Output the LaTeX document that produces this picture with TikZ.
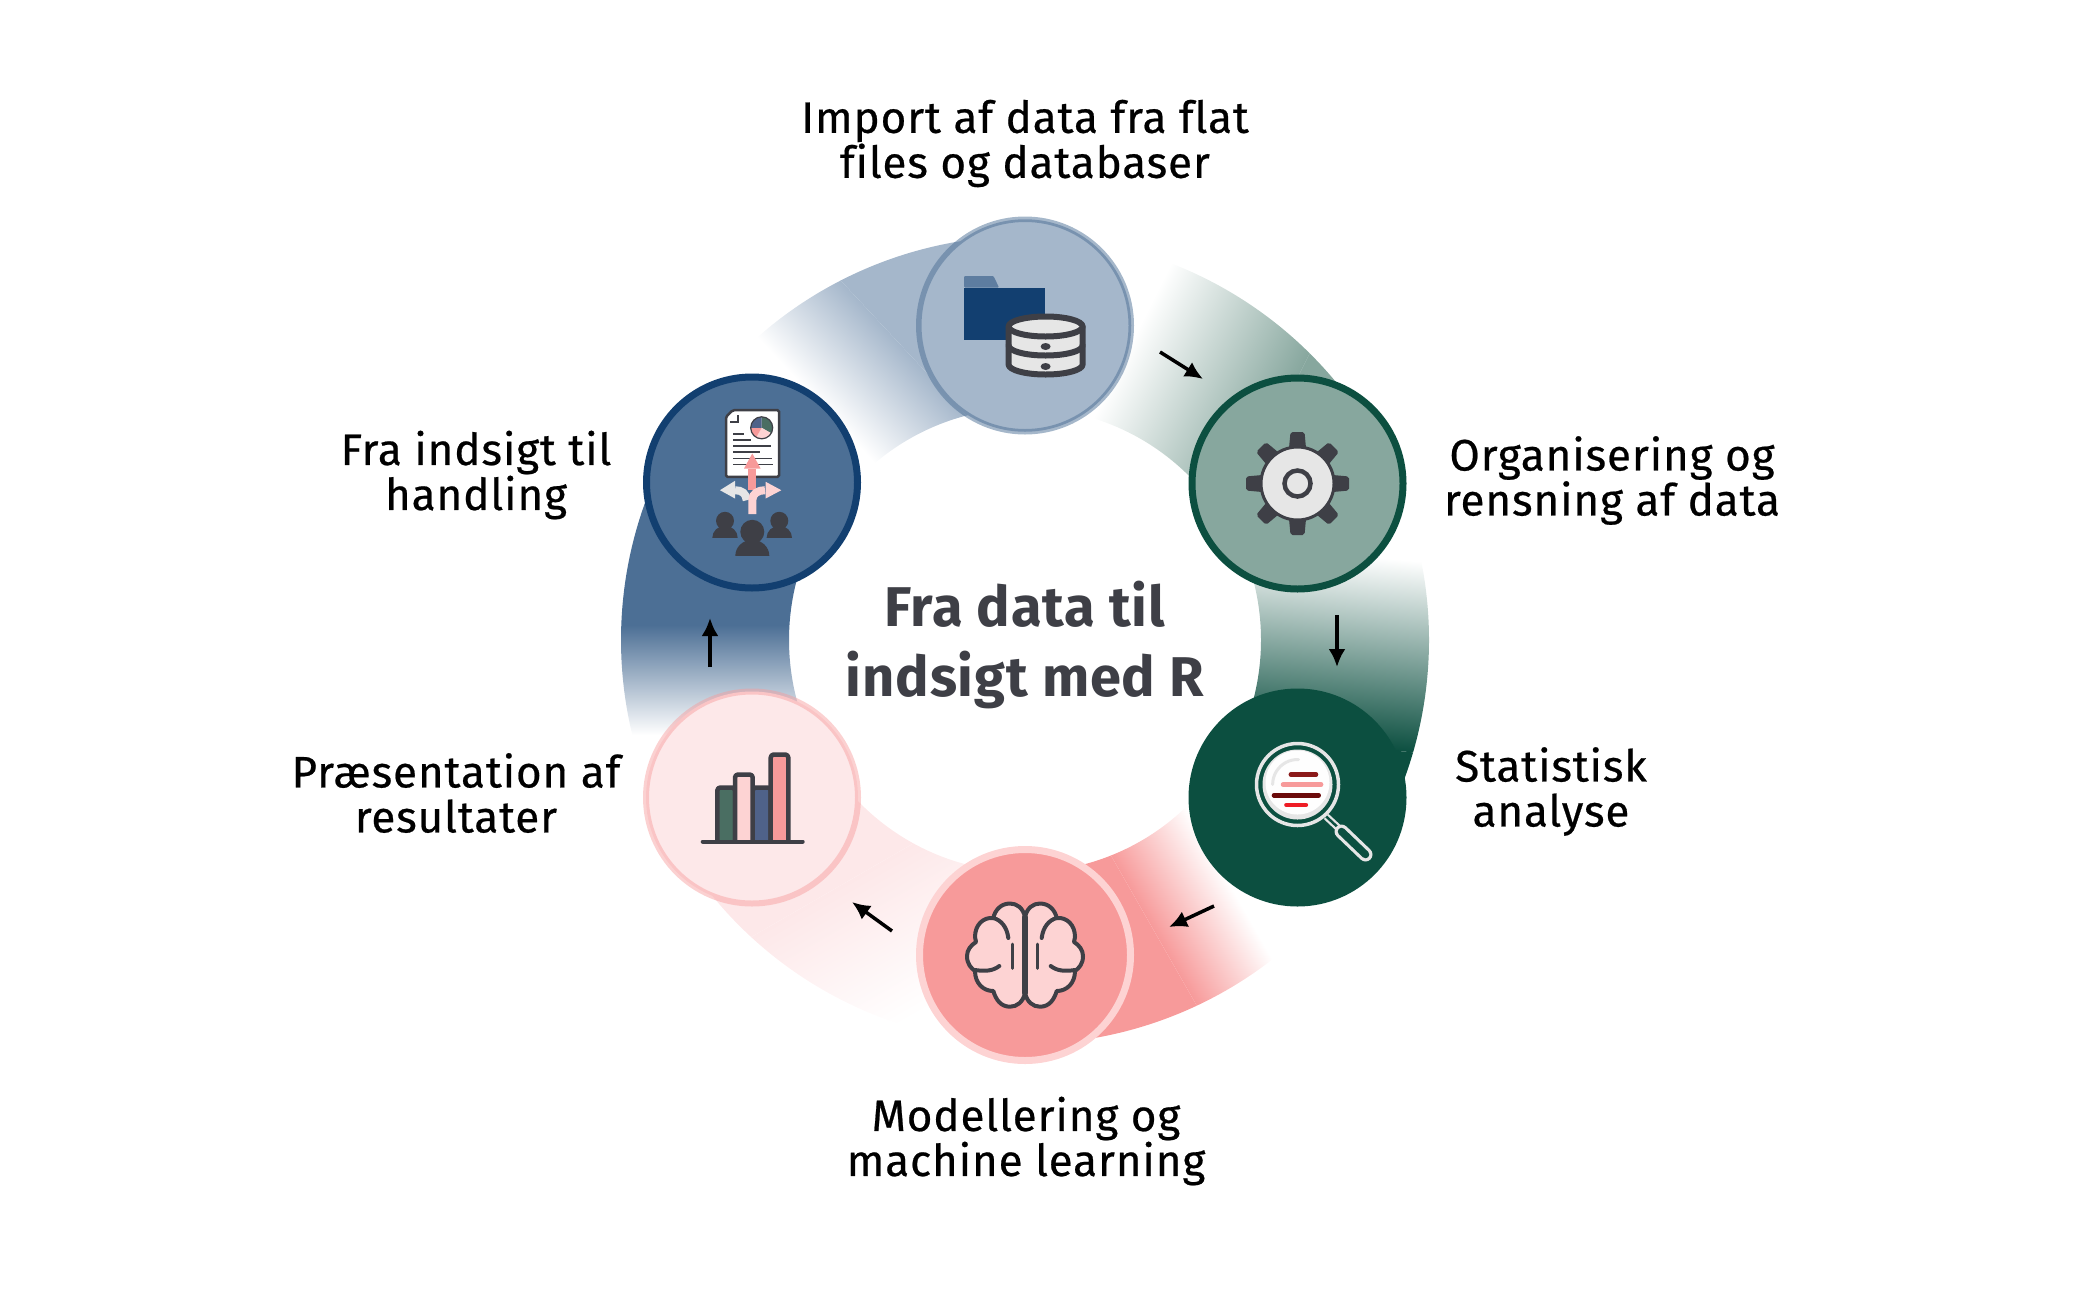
\documentclass[tikz,border=0pt]{standalone}
\usepackage{fontspec}
\setmainfont{Fira Sans}
\newfontfamily\labelfont{Fira Sans}[LetterSpace=2, FakeBold=0.5, Ligatures=NoCommon]
\newfontfamily\titlefont{Fira Sans}[LetterSpace=1.5, Ligatures=NoCommon]
\usetikzlibrary{arrows.meta}

\definecolor{inkgrey}{HTML}{3E3F46}
\definecolor{lightgrey}{HTML}{E6E6E6}
\definecolor{paleblue}{HTML}{A5B7CB}
\definecolor{midblue}{HTML}{4C6F95}
\definecolor{deepblue}{HTML}{123F70}
\definecolor{slateblue}{HTML}{4F6289}
\definecolor{palegreen}{HTML}{87A79E}
\definecolor{midgreen}{HTML}{4A6E62}
\definecolor{deepgreen}{HTML}{0C4F40}
\definecolor{salmon}{HTML}{F79A9A}
\definecolor{palepink}{HTML}{FDD3D3}
\definecolor{softpink}{HTML}{FDE8E9}
\definecolor{lensdark}{HTML}{8B1A1A}
\definecolor{lensdeep}{HTML}{6B0A0A}
\definecolor{lensred}{HTML}{EE1C25}

\tikzset{
	stepcircle/.style n args={3}{circle, draw=#1, fill=#2, line width=#3, minimum size=218pt-#3, inner sep=0pt},
	steplabel/.style={align=center, text=black, inner sep=0pt, font=\labelfont\fontsize{44}{45}\selectfont},
	steparrow/.style={->, >={Latex[length=18pt,width=17pt]}, line width=3.5pt, black},
	iconline/.style={draw=inkgrey, line width=4.5pt, line join=round, line cap=round},
	thinline/.style={draw=inkgrey, line width=1.8pt},
}

% ring piece: from angle, to angle, colour, gradient start x y, gradient end x y, inner radius
\newcommand{\ringseg}[8]{
	\pgfmathsetmacro{\gradang}{atan2(#7-#5,#6-#4)}
	\pgfmathsetmacro{\gradlen}{veclen(#6-#4,#7-#5)}
	\begin{scope}
		\clip[shift={(1025,-640)}] (#1:404) arc [start angle=#1, end angle=#2, radius=404] -- (#2:#8) arc [start angle=#2, end angle=#1, radius=#8] -- cycle;
		\begin{scope}[transform canvas={shift={(#4,#5)}, rotate=\gradang}]
			\shade[left color=white, right color=#3] (0,-700) rectangle (\gradlen,700);
			\fill[#3] (\gradlen,-700) rectangle (1400,700);
		\end{scope}
	\end{scope}
}

\newcommand{\brainhalf}{
	\draw[iconline, line width=4pt, fill=palepink] (0,38) .. controls (2,47) and (8,51.5) .. (15,51.5) .. controls (24,51.5) and (30,45) .. (31.7,37) .. controls (42,38) and (50,30) .. (50,18) .. controls (50,16) and (49.5,15) .. (49,13) .. controls (54,10) and (58,5) .. (58,-1) .. controls (58,-9) and (54,-13) .. (50,-16) .. controls (50,-28) and (42,-36) .. (31.7,-36) .. controls (29,-45) and (24,-51.7) .. (15,-51.7) .. controls (8,-51.7) and (2,-47) .. (0,-38) -- cycle;
	\draw[iconline, line width=4pt] (16.7,17) .. controls (18,28) and (24,35) .. (31.7,37);
	\draw[iconline, line width=4pt] (25.7,-11) .. controls (32,-16) and (40,-16.5) .. (50,-15);
	\draw[iconline, line width=3pt] (12.3,11) -- (12.3,-13.3);
}

\begin{document}
\begin{tikzpicture}[x=1pt, y=1pt]
	\useasboundingbox (0,0) rectangle (2084,-1304);

	% ring
	\ringseg{90}{30}{palegreen}{1170}{-265}{1317}{-339}{232}
	\ringseg{30}{-30}{deepgreen}{1353}{-555}{1335}{-745}{236}
	\ringseg{-30}{-90}{salmon}{1262}{-941}{1185}{-985}{232}
	\ringseg{-90}{-150}{softpink}{925}{-1010}{850}{-880}{232}
	\ringseg{-150}{-210}{midblue}{710}{-735}{710}{-625}{236}
	\ringseg{150}{90}{paleblue}{757}{-337}{830}{-269}{232}

	% steps
	\node (imp) [stepcircle={midblue}{paleblue}{5.5pt}, draw opacity=.5] at (1025,-325.5) {};
	\node (org) [stepcircle={deepgreen}{palegreen}{7pt}] at (1297.5,-483.5) {};
	\node (stat) [stepcircle={deepgreen}{deepgreen}{6pt}] at (1297.5,-797.5) {};
	\node (model) [stepcircle={palepink}{salmon}{7pt}] at (1025,-955) {};
	\node (pres) [stepcircle={salmon}{softpink}{6pt}, draw opacity=.45] at (752,-797.5) {};
	\node (act) [stepcircle={deepblue}{midblue}{7pt}] at (752,-482.5) {};

	% arrows
	\coordinate (a1) at (1160,-352);
	\coordinate (b1) at (1203,-379);
	\coordinate (a2) at (1337,-615);
	\coordinate (b2) at (1337,-667);
	\coordinate (a3) at (1214,-906);
	\coordinate (b3) at (1169,-927);
	\coordinate (a4) at (892,-931);
	\coordinate (b4) at (852,-902);
	\coordinate (a5) at (710,-667);
	\coordinate (b5) at (710,-618);
	\draw [steparrow] (a1) -- (b1);
	\draw [steparrow] (a2) -- (b2);
	\draw [steparrow] (a3) -- (b3);
	\draw [steparrow] (a4) -- (b4);
	\draw [steparrow] (a5) -- (b5);

	% folder and database
	\begin{scope}[shift={(imp.center)}]
		\fill[midblue!90!white, rounded corners=1pt] (-61,38) -- (-61,49.5) -- (-31.5,49.5) -- (-26,38) -- cycle;
		\fill[deepblue] (-61,-14) rectangle (20,38);
		\begin{scope}[shift={(20.6,-1)}]
			\draw[iconline, line width=6pt, fill=lightgrey] (-37,0) -- (-37,-38) arc [start angle=180, end angle=360, x radius=37, y radius=10] -- (37,0) -- cycle;
			\draw[iconline, line width=6pt, fill=lightgrey] (0,0) ellipse [x radius=37, y radius=10];
			\draw[iconline, line width=6pt] (-37,-19) arc [start angle=180, end angle=360, x radius=37, y radius=10];
			\fill[inkgrey] (0,-20) ellipse [x radius=5, y radius=3.5];
			\fill[inkgrey] (0,-40) ellipse [x radius=5, y radius=3.5];
		\end{scope}
	\end{scope}

	% gear
	\begin{scope}[shift={(org.center)}]
		\fill[inkgrey, rounded corners=2pt, rotate=0] (-9,30) -- (-7,51.5) -- (7,51.5) -- (9,30) -- cycle;
		\fill[inkgrey, rounded corners=2pt, rotate=45] (-9,30) -- (-7,51.5) -- (7,51.5) -- (9,30) -- cycle;
		\fill[inkgrey, rounded corners=2pt, rotate=90] (-9,30) -- (-7,51.5) -- (7,51.5) -- (9,30) -- cycle;
		\fill[inkgrey, rounded corners=2pt, rotate=135] (-9,30) -- (-7,51.5) -- (7,51.5) -- (9,30) -- cycle;
		\fill[inkgrey, rounded corners=2pt, rotate=180] (-9,30) -- (-7,51.5) -- (7,51.5) -- (9,30) -- cycle;
		\fill[inkgrey, rounded corners=2pt, rotate=225] (-9,30) -- (-7,51.5) -- (7,51.5) -- (9,30) -- cycle;
		\fill[inkgrey, rounded corners=2pt, rotate=270] (-9,30) -- (-7,51.5) -- (7,51.5) -- (9,30) -- cycle;
		\fill[inkgrey, rounded corners=2pt, rotate=315] (-9,30) -- (-7,51.5) -- (7,51.5) -- (9,30) -- cycle;
		\draw[inkgrey, line width=3pt, fill=lightgrey] (0,0) circle (36.5);
		\draw[inkgrey, line width=4.5pt, fill=lightgrey] (0,0) circle (13);
	\end{scope}

	% magnifier
	\begin{scope}[shift={(stat.center)}]
		\draw[lightgrey, line width=7pt] (28.7,-19) -- (40.5,-30);
		\draw[deepgreen, line width=2.5pt] (28.7,-19) -- (40.5,-30);
		\draw[lightgrey, line width=14pt, line cap=round] (44,-34) -- (68,-57);
		\draw[deepgreen, line width=7.5pt, line cap=round] (44,-34) -- (68,-57);
		\draw[lightgrey, line width=3.5pt] (0,13) circle (41);
		\fill[lightgrey] (0,13) circle (35);
		\fill[white!95!lightgrey] (0,15) circle (32);
		\draw[lightgrey, line width=3pt, line cap=round] (1,38) arc [start angle=88, end angle=180, radius=25];
		\draw[lensdark, line width=4.5pt, line cap=round] (-6.7,23) -- (18.5,23);
		\draw[salmon, line width=4.5pt, line cap=round] (-14.5,13) -- (23.6,13);
		\draw[lensdeep, line width=4.5pt, line cap=round] (-23.6,2.2) -- (21.2,2.2);
		\draw[lensred, line width=4.5pt, line cap=round] (-11.1,-7.4) -- (8.4,-7.4);
	\end{scope}

	% brain
	\begin{scope}[shift={(model.center)}]
		\brainhalf
		\begin{scope}[xscale=-1]
			\brainhalf
		\end{scope}
		\draw[iconline, line width=5.5pt] (0,38) -- (0,-38);
	\end{scope}

	% bars
	\begin{scope}[shift={(pres.center)}]
		\draw[iconline, fill=midgreen, rounded corners=3pt] (-34.7,-44) -- (-34.7,10) -- (-17,10) -- (-17,-44);
		\draw[iconline, fill=slateblue, rounded corners=3pt] (0.7,-44) -- (0.7,10) -- (18.7,10) -- (18.7,-44);
		\draw[iconline, fill=palepink, rounded corners=3pt] (-17,-44) -- (-17,23) -- (0.7,23) -- (0.7,-44);
		\draw[iconline, fill=salmon, rounded corners=3pt] (18.7,-44) -- (18.7,43) -- (36.3,43) -- (36.3,-44);
		\draw[iconline, line width=4pt] (-49.3,-44) -- (50.7,-44);
	\end{scope}

	% report and people
	\begin{scope}[shift={(act.center)}]
		\draw[inkgrey, line width=2.5pt, fill=white, rounded corners=1.5pt] (-26,65.6) -- (-19.3,72.3) -- (27,72.3) -- (27,5.7) -- (-26,5.7) -- cycle;
		\draw[inkgrey, line width=2pt] (-13.7,67.3) -- (-13.7,60.7) -- (-22,60.7);
		\fill[midgreen] (9.7,54.7) -- (9.7,65.7) arc [start angle=90, end angle=-30, radius=11] -- cycle;
		\fill[palepink] (9.7,54.7) -- ++(-30:11) arc [start angle=-30, end angle=-120, radius=11] -- cycle;
		\fill[salmon] (9.7,54.7) -- ++(-120:11) arc [start angle=-120, end angle=-180, radius=11] -- cycle;
		\fill[slateblue] (9.7,54.7) -- ++(180:11) arc [start angle=180, end angle=90, radius=11] -- cycle;
		\draw[inkgrey, line width=1.2pt] (9.7,54.7) circle (11);
		\draw[thinline] (-18.7,48.3) -- (-8,48.3);
		\draw[thinline] (-18.7,42.3) -- (-1.3,42.3);
		\draw[thinline] (-18.7,36.3) -- (18.7,36.3);
		\draw[thinline] (-18.7,30.3) -- (8,30.3);
		\draw[thinline] (-18.7,24) -- (20.3,24);
		\draw[thinline] (-18.7,18) -- (21.3,18);
		\draw[salmon, line width=8pt] (0.3,-7.7) -- (0.3,14);
		\fill[salmon] (0.3,29) -- (8.6,14) -- (-8,14) -- cycle;
		\draw[lightgrey, line width=8pt] (-5.3,-17.7) .. controls (-6,-11) and (-10,-7.7) .. (-17,-7.7);
		\fill[lightgrey] (-32,-7.7) -- (-17,1.7) -- (-17,-16) -- cycle;
		\draw[palepink, line width=8pt] (0.3,-31.7) -- (0.3,-17.7) .. controls (0.3,-11) and (6,-7.7) .. (13,-7.7);
		\fill[palepink] (29.3,-7.7) -- (13.7,0.7) -- (13.7,-16) -- cycle;
		\fill[inkgrey] (0.3,-49.3) circle (12);
		\fill[inkgrey] (-16.7,-73.3) arc [start angle=180, end angle=0, x radius=17, y radius=16] -- cycle;
		\fill[inkgrey] (-27,-38.3) circle (9);
		\fill[inkgrey] (-39.7,-55.3) arc [start angle=180, end angle=0, x radius=12.7, y radius=12] -- cycle;
		\fill[inkgrey] (27.3,-38.3) circle (9);
		\fill[inkgrey] (14.6,-55.3) arc [start angle=180, end angle=0, x radius=12.7, y radius=12] -- cycle;
	\end{scope}

	% texts
	\node (title) at (1025,-644.5) [align=center, inner sep=0pt, text=inkgrey, font=\titlefont\fontsize{56}{70}\selectfont\bfseries] {Fra data til\\indsigt med R};
	\node (limp) at (1025,-143.5) [steplabel] {Import af data fra flat\\files og databaser};
	\node (lorg) at (1612,-480.5) [steplabel] {Organisering og\\rensning af data};
	\node (lstat) at (1551,-791.5) [steplabel] {Statistisk\\analyse};
	\node (lmodel) at (1026,-1141) [steplabel] {Modellering og\\machine learning};
	\node (lpres) at (456,-793) [steplabel] {Præsentation af\\resultater};
	\node (lact) at (476,-475) [steplabel] {Fra indsigt til\\handling};
\end{tikzpicture}
\end{document}
